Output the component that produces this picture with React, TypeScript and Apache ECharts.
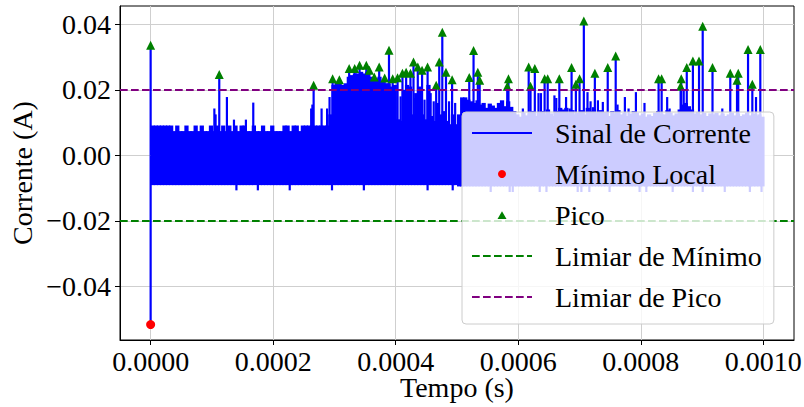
import React, { useEffect, useRef } from 'react';
import * as echarts from 'echarts';

// ---------- data (times in microseconds, currents in A) ----------
const binWidthUs = 5; // width of each envelope bin
// upper edge of the dense noise band, one value per 5 µs bin (0 .. 1000 µs)
const bandTop = [
  0.0091, 0.0091, 0.0091, 0.0091, 0.0091, 0.0091, 0.0091, 0.0074, 0.0091, 0.0074,
  0.0074, 0.0091, 0.0074, 0.0074, 0.0091, 0.0074, 0.0091, 0.0074, 0.0074, 0.0091,
  0.0074, 0.0091, 0.0074, 0.0091, 0.0074, 0.0091, 0.0074, 0.0091, 0.0074, 0.0091,
  0.0091, 0.0074, 0.0074, 0.0091, 0.0074, 0.0074, 0.0091, 0.0074, 0.0074, 0.0091,
  0.0074, 0.0074, 0.0074, 0.0091, 0.0091, 0.0074, 0.0091, 0.0091, 0.0074, 0.0091,
  0.0091, 0.0091, 0.0091, 0.0091, 0.0091, 0.0091, 0.0091, 0.0091, 0.0125, 0.0215,
  0.0225, 0.0225, 0.0215, 0.0220, 0.0240, 0.0245, 0.0250, 0.0250, 0.0255, 0.0250,
  0.0255, 0.0240, 0.0230, 0.0235, 0.0240, 0.0225, 0.0220, 0.0220, 0.0210, 0.0215,
  0.0110, 0.0105, 0.0200, 0.0215, 0.0210, 0.0125, 0.0190, 0.0210, 0.0125, 0.0110,
  0.0215, 0.0120, 0.0105, 0.0160, 0.0125, 0.0135, 0.0105, 0.0095, 0.0125, 0.0095,
  0.0125, 0.0177, 0.0177, 0.0170, 0.0165, 0.0160, 0.0168, 0.0155, 0.0160, 0.0145,
  0.0158, 0.0152, 0.0145, 0.0160, 0.0168, 0.0150, 0.0165, 0.0148, 0.0135, 0.0125,
  0.0118, 0.0130, 0.0122, 0.0128, 0.0135, 0.0120, 0.0130, 0.0135, 0.0125, 0.0140,
  0.0128, 0.0120, 0.0135, 0.0145, 0.0140, 0.0145, 0.0130, 0.0138, 0.0125, 0.0130,
  0.0138, 0.0125, 0.0145, 0.0135, 0.0140, 0.0130, 0.0138, 0.0128, 0.0132, 0.0120,
  0.0135, 0.0128, 0.0138, 0.0125, 0.0130, 0.0120, 0.0128, 0.0135, 0.0130, 0.0122,
  0.0128, 0.0118, 0.0125, 0.0120, 0.0130, 0.0135, 0.0128, 0.0125, 0.0138, 0.0130,
  0.0122, 0.0128, 0.0140, 0.0155, 0.0160, 0.0150, 0.0140, 0.0128, 0.0132, 0.0125,
  0.0130, 0.0120, 0.0128, 0.0125, 0.0130, 0.0122, 0.0128, 0.0120, 0.0125, 0.0130,
  0.0122, 0.0128, 0.0120, 0.0125, 0.0130, 0.0122, 0.0128, 0.0120, 0.0125, 0.0118,
];
const bottomBinUs = 50;
// lower edge of the noise band, one value per 50 µs
const bandBottom = [
  -0.0091, -0.0091, -0.0091, -0.0091, -0.0091, -0.0091, -0.0091, -0.0091, -0.0091, -0.0091,
  -0.0095, -0.0095, -0.0095, -0.0095, -0.0095, -0.0095, -0.0095, -0.0095, -0.0095, -0.0095,
];

// detected peaks (green triangles)
const peakTimesUs = [
  0, 112, 266, 297, 308, 324, 333, 341, 352, 357, 365, 373, 382, 389, 395, 403, 411, 417, 424, 429,
  436, 443, 452, 466, 471, 476, 482, 492, 520, 527, 534, 537, 582, 584, 617, 620, 627, 643, 648, 667,
  687, 694, 700, 707, 725, 746, 759, 829, 834, 865, 866, 875, 885, 895, 901, 917, 946, 957, 959, 975,
  982, 995,
];
const peakValues = [
  0.0336, 0.0247, 0.0214, 0.0234, 0.0231, 0.0265, 0.0265, 0.0275, 0.0275, 0.0260, 0.0239, 0.0270,
  0.0236, 0.0321, 0.0234, 0.0237, 0.0251, 0.0254, 0.0251, 0.0285, 0.0270, 0.0260, 0.0270, 0.0214,
  0.0285, 0.0376, 0.0254, 0.0231, 0.0238, 0.0320, 0.0254, 0.0229, 0.0211, 0.0234, 0.0270, 0.0211,
  0.0265, 0.0234, 0.0234, 0.0234, 0.0268, 0.0217, 0.0234, 0.0410, 0.0251, 0.0268, 0.0303, 0.0234,
  0.0234, 0.0211, 0.0234, 0.0268, 0.0288, 0.0288, 0.0394, 0.0268, 0.0251, 0.0229, 0.0251, 0.0323,
  0.0217, 0.0323,
];

// smaller unmarked spikes of the signal
const spikeTimesUs = [
  104, 106, 124.5, 136, 155.5, 167.5, 262, 264, 279, 288, 292, 408, 421, 432, 447, 457, 462, 487, 497,
  607.5, 633, 637, 659, 662, 678, 684, 713, 718, 722, 730, 738, 762, 774, 780, 792, 806, 843, 847,
  870, 933, 988,
];
const spikeValues = [
  0.0143, 0.0125, 0.0178, 0.0109, 0.0109, 0.0161, 0.0143, 0.0155, 0.0143, 0.0143, 0.0178, 0.0180,
  0.0190, 0.0175, 0.0170, 0.0190, 0.0165, 0.0165, 0.0160,
  0.0143, 0.0190, 0.0190, 0.0183, 0.0175, 0.0178, 0.0143, 0.0193, 0.0165, 0.0147, 0.0168, 0.0163,
  0.0155, 0.0178, 0.0143, 0.0193, 0.0160, 0.0178, 0.0143, 0.0200, 0.0143, 0.0178,
];

// small downward dips below the band
const dipTimesUs = [
  140, 175, 227, 296, 348, 452, 493, 555, 586, 591, 635, 646, 697, 703, 716, 749, 798, 809, 852, 885,
  901, 937, 978, 997,
];
const dipValues = [
  -0.0107, -0.0107, -0.0107, -0.0107, -0.0107, -0.0107, -0.0107, -0.0112, -0.0112, -0.0112, -0.0112,
  -0.0112, -0.0112, -0.0112, -0.0112, -0.0112, -0.0112, -0.0112, -0.0112, -0.0112, -0.0112, -0.0112,
  -0.0112, -0.0112,
];

// local minimum (red dot)
const minimumTimesUs = [0];
const minimumValues = [-0.0517];

const peakThreshold = 0.02;
const minimumThreshold = -0.02;

const xTickValues = [0, 0.0002, 0.0004, 0.0006, 0.0008, 0.001];
const yTickValues = [-0.04, -0.02, 0, 0.02, 0.04];

// ---------- styling ----------
const FONT = 'Liberation Serif';
const BLUE = '#0000ff';
const US = 1e-6;

const solidIcon = 'path://M0,0M0,3.1H60V4.9H0ZM60,8';
const triangleIcon = 'path://M0,0M25.5,8L30,0.2L34.5,8ZM60,8';
const dashedIcon =
  'path://M0,0M0,3H7.7V5H0ZM11,3H18.7V5H11ZM22,3H29.7V5H22ZM33,3H40.7V5H33ZM44,3H51.7V5H44ZM55,3H60V5H55ZM60,8';

export default function App() {
  const ref = useRef<HTMLDivElement>(null);

  useEffect(() => {
    if (!ref.current) return;
    const chart = echarts.init(ref.current, null, { renderer: 'svg' });

    const bandData = bandTop.map((top, i) => {
      const t0 = i * binWidthUs;
      const t1 = (i + 1) * binWidthUs;
      const bottom = bandBottom[Math.min(bandBottom.length - 1, Math.floor(t0 / bottomBinUs))];
      return [t0 * US, t1 * US, bottom, top];
    });

    const spikeData: number[][] = [];
    peakTimesUs.forEach((t, i) => spikeData.push([t * US, 0, peakValues[i]]));
    spikeTimesUs.forEach((t, i) => spikeData.push([t * US, 0, spikeValues[i]]));
    dipTimesUs.forEach((t, i) => spikeData.push([t * US, 0, dipValues[i]]));
    minimumTimesUs.forEach((t, i) => spikeData.push([t * US, 0, minimumValues[i]]));

    const textBase = { fontFamily: FONT, fontSize: 28, color: '#000' };

    const option: any = {
      animation: false,
      backgroundColor: '#ffffff',
      textStyle: { fontFamily: FONT },
      grid: {
        left: 120,
        right: 10,
        top: 6,
        bottom: 67,
        show: true,
        borderColor: '#000000',
        borderWidth: 1,
        backgroundColor: 'transparent',
        outerBoundsMode: 'none',
      },
      xAxis: {
        type: 'value',
        min: -0.00005,
        max: 0.00105,
        name: 'Tempo (s)',
        nameLocation: 'middle',
        nameGap: 33,
        nameMoveOverlap: false,
        nameTextStyle: { ...textBase, lineHeight: 28 },
        axisLine: { show: true, onZero: false, lineStyle: { color: '#000', width: 1 } },
        axisTick: { show: true, length: 5, inside: false, customValues: xTickValues, lineStyle: { color: '#000', width: 1 } },
        axisLabel: {
          ...textBase,
          lineHeight: 28,
          customValues: xTickValues,
          formatter: (v: number) => v.toFixed(4),
          margin: 7,
        },
        splitLine: { show: true, lineStyle: { color: '#cfcfcf', width: 1 } },
      },
      yAxis: {
        type: 'value',
        min: -0.0564,
        max: 0.0456,
        name: 'Corrente (A)',
        nameLocation: 'middle',
        nameGap: 84,
        nameMoveOverlap: false,
        nameTextStyle: textBase,
        axisLine: { show: true, onZero: false, lineStyle: { color: '#000', width: 1 } },
        axisTick: { show: true, length: 5, inside: false, customValues: yTickValues, lineStyle: { color: '#000', width: 1 } },
        axisLabel: {
          ...textBase,
          customValues: yTickValues,
          formatter: (v: number) => (v < 0 ? '\u2212' : '') + Math.abs(v).toFixed(2),
          margin: 9,
        },
        splitLine: { show: true, lineStyle: { color: '#cfcfcf', width: 1 } },
      },
      legend: {
        orient: 'vertical',
        left: 462,
        top: 112,
        z: 20,
        selectedMode: false,
        data: [
          { name: 'Sinal de Corrente', icon: solidIcon },
          { name: 'Mínimo Local', icon: 'circle' },
          { name: 'Pico', icon: triangleIcon },
          { name: 'Limiar de Mínimo', icon: dashedIcon },
          { name: 'Limiar de Pico', icon: dashedIcon },
        ],
        itemWidth: 60,
        itemHeight: 8,
        itemGap: 11,
        padding: [6, 12, 12, 10],
        backgroundColor: 'rgba(255,255,255,0.8)',
        borderColor: '#cccccc',
        borderWidth: 1,
        borderRadius: 4,
        itemStyle: { borderWidth: 0, opacity: 1 },
        textStyle: { ...textBase, lineHeight: 30, padding: [0, 0, 0, 18] },
      },
      series: [
        {
          name: 'Sinal de Corrente',
          type: 'custom',
          color: BLUE,
          itemStyle: { color: BLUE },
          z: 2,
          clip: true,
          encode: { x: [0, 1], y: [2, 3] },
          data: bandData,
          renderItem: (_p: any, api: any) => {
            const a = api.coord([api.value(0), api.value(3)]);
            const b = api.coord([api.value(1), api.value(2)]);
            return {
              type: 'rect',
              shape: { x: a[0], y: a[1], width: b[0] - a[0] + 1.2, height: b[1] - a[1] },
              style: { fill: BLUE },
            };
          },
        },
        {
          name: 'Sinal de Corrente',
          type: 'custom',
          color: BLUE,
          itemStyle: { color: BLUE },
          z: 2,
          clip: true,
          encode: { x: 0, y: [1, 2] },
          data: spikeData,
          renderItem: (_p: any, api: any) => {
            const a = api.coord([api.value(0), api.value(1)]);
            const b = api.coord([api.value(0), api.value(2)]);
            const y0 = Math.min(a[1], b[1]);
            return {
              type: 'rect',
              shape: { x: a[0] - 1.1, y: y0, width: 2.2, height: Math.abs(b[1] - a[1]) },
              style: { fill: BLUE },
            };
          },
        },
        {
          name: 'Limiar de Mínimo',
          type: 'line',
          color: '#008000',
          data: [],
          z: 3,
          markLine: {
            silent: true,
            symbol: ['none', 'none'],
            label: { show: false },
            lineStyle: { color: '#008000', type: [7.7, 3.3], width: 2 },
            data: [{ yAxis: minimumThreshold }],
          },
        },
        {
          name: 'Limiar de Pico',
          type: 'line',
          color: '#800080',
          data: [],
          z: 3,
          markLine: {
            silent: true,
            symbol: ['none', 'none'],
            label: { show: false },
            lineStyle: { color: '#800080', type: [7.7, 3.3], width: 2 },
            data: [{ yAxis: peakThreshold }],
          },
        },
        {
          name: 'Mínimo Local',
          type: 'scatter',
          color: '#ff0000',
          symbol: 'circle',
          symbolSize: 9,
          z: 4,
          itemStyle: { color: '#ff0000', opacity: 1 },
          data: minimumTimesUs.map((t, i) => [t * US, minimumValues[i]]),
        },
        {
          name: 'Pico',
          type: 'scatter',
          color: '#008000',
          symbol: 'triangle',
          symbolSize: 9,
          z: 4,
          itemStyle: { color: '#008000', opacity: 1 },
          data: peakTimesUs.map((t, i) => [t * US, peakValues[i]]),
        },
      ],
    };

    chart.setOption(option);
    return () => chart.dispose();
  }, []);

  return (
    <div
      ref={ref}
      style={{ position: 'absolute', left: 0, top: 0, width: 804, height: 407, background: '#fff' }}
    />
  );
}
